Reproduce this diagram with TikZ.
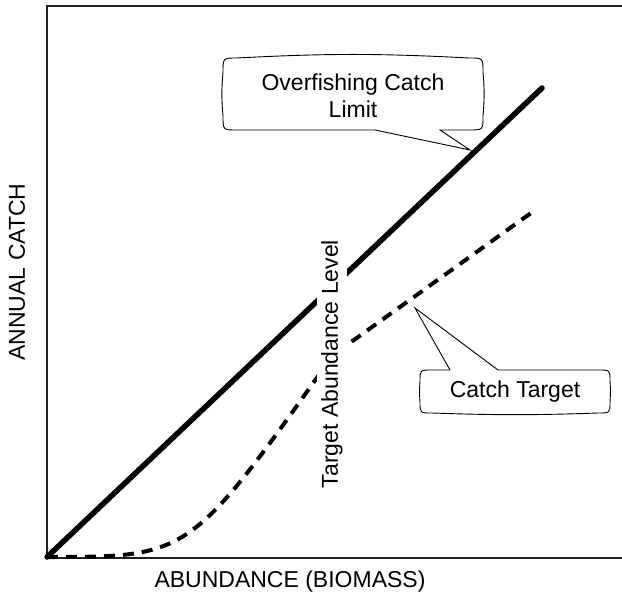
\documentclass[tikz,border=0pt]{standalone}
\usepackage{fontspec}
\setmainfont{Liberation Sans}
\begin{document}
\begin{tikzpicture}[x=1pt,y=-1pt,
  lbl/.style={font=\fontsize{23}{26.5}\selectfont, inner sep=0pt},
  frame/.style={line width=2pt, draw=black!88},
  ofl/.style={line width=5.5pt, line cap=round},
  target/.style={line width=4pt, dash pattern=on 11pt off 8pt},
  bubble/.style={line width=0.9pt, fill=white},
]
\useasboundingbox (0,0) rectangle (622,599);

% axes
\coordinate (o) at (47,557);
\draw[frame] (622,6) -- (47,6) -- (47,558) -- (622,558);

% overfishing catch limit and catch target curves
\coordinate (oflend) at (542,88);
\draw[ofl] (o) -- (oflend);
\coordinate (kink) at (333,355);
\coordinate (ctend) at (531,213);
\draw[target] (o) .. controls (190,557) .. (kink) -- (ctend);

% vertical marker label, masking the curves behind it
\node[lbl, rotate=90, fill=white, inner xsep=2pt, inner ysep=4pt] (tal) at (332,364) {Target Abundance Level};

% axis labels
\node[lbl] (ylab) at (17,272) [rotate=90] {ANNUAL CATCH};
\node[lbl] (xlab) at (290,582) {ABUNDANCE (BIOMASS)};

% callout: overfishing catch limit
\coordinate (tipA) at (470,150);
\draw[bubble]
  (237,58) to[bend left=3] (469,58)
  .. controls (483,58) .. (483,72)
  to[bend left=5] (483,116)
  .. controls (483,130) .. (469,130)
  -- (440,130) -- (tipA) -- (375,130) -- (237,130)
  .. controls (223,130) .. (223,116)
  to[bend left=5] (223,72)
  .. controls (223,58) .. cycle;
\node[lbl, align=center] (ofllab) at (353,96) {Overfishing Catch\\Limit};

% callout: catch target
\coordinate (tipB) at (415,308);
\draw[bubble]
  (432,370) -- (450,370) -- (tipB) -- (498,370) -- (598,370)
  .. controls (610,370) .. (610,381)
  to[bend left=4] (610,402)
  .. controls (610,413) .. (598,413)
  to[bend left=2] (432,413)
  .. controls (420,413) .. (420,402)
  to[bend left=4] (420,381)
  .. controls (420,370) .. cycle;
\node[lbl] (ctlab) at (515,392) {Catch Target};
\end{tikzpicture}
\end{document}
